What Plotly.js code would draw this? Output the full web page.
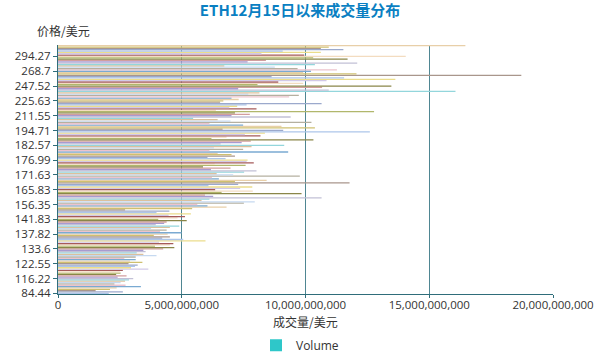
<!DOCTYPE html>
<html>
<head>
<meta charset="utf-8">
<script src="https://cdn.plot.ly/plotly-3.0.1.min.js"></script>
<style>html,body{margin:0;padding:0;background:#fff;}#chart{width:600px;height:354px;}</style>
</head>
<body>
<div id="chart"></div>
<script>
// Price levels (USD), ascending (category axis)
var prices = [
'84.44','86.79','90.68','93.51','100.44','102.47','104.53','106.92','108.70','110.13','113.31',
'116.22','116.73','117.32','117.89','118.41','118.97','119.40','120.08','120.63','121.35','121.98',
'122.55','123.31','124.19','125.34','126.42','127.63','128.80','129.75','130.86','131.84','132.74',
'133.6','133.97','134.36','134.81','135.19','135.62','136.05','136.44','136.81','137.13','137.52',
'137.82','138.17','138.49','138.86','139.21','139.58','139.97','140.32','140.74','141.12','141.49',
'141.83','142.46','143.91','144.73','145.86','147.52','148.94','150.39','152.07','153.61','155.02',
'156.35','157.28','158.16','159.05','160.02','160.89','161.83','162.59','163.37','164.24','165.06',
'165.83','166.34','166.87','167.41','167.95','168.52','169.08','169.61','170.12','170.58','171.14',
'171.63','172.08','172.61','173.14','173.59','174.05','174.53','175.02','175.49','175.97','176.48',
'176.99','177.52','178.04','178.61','179.13','179.68','180.24','180.75','181.29','181.76','182.13',
'182.57','183.48','184.62','185.79','186.91','188.13','189.27','190.44','191.58','192.67','193.76',
'194.71','196.23','197.92','199.61','201.35','202.86','204.42','205.97','207.51','209.08','210.36',
'211.55','212.89','214.27','215.63','216.92','218.35','219.74','221.08','222.43','223.81','224.69',
'225.63','227.41','229.65','231.88','234.12','236.27','238.56','240.71','242.93','244.86','246.19',
'247.52','249.35','251.42','253.68','255.81','257.93','259.87','261.94','264.06','265.83','267.41',
'268.7','270.53','272.96','275.31','277.68','280.14','282.47','284.92','287.26','289.63','291.88',
'294.27','297.05','300.61','304.38','308.92','313.47','318.06','326.54','336.82'
];

// Traded volume (USD) at each price level
var volumes = [
2.05e9,2.62e9,1.52e9,2.10e9,2.37e9,3.35e9,2.73e9,2.28e9,2.53e9,2.71e9,2.87e9,
3.04e9,2.41e9,2.77e9,2.35e9,2.53e9,2.50e9,2.62e9,3.65e9,2.95e9,3.11e9,3.22e9,
2.85e9,3.41e9,2.91e9,3.14e9,2.68e9,3.14e9,3.98e9,3.45e9,3.18e9,3.54e9,3.45e9,
4.25e9,4.70e9,3.92e9,4.52e9,4.66e9,4.08e9,5.96e9,5.06e9,4.21e9,4.52e9,3.87e9,
4.43e9,4.99e9,4.12e9,4.39e9,3.76e9,4.52e9,4.90e9,3.95e9,4.29e9,4.39e9,5.20e9,
4.05e9,4.83e9,5.13e9,4.47e9,5.37e9,3.98e9,4.50e9,2.71e9,5.42e9,6.81e9,6.04e9,
5.63e9,7.51e9,7.95e9,5.80e9,6.12e9,10.65e9,6.27e9,5.94e9,9.84e9,6.61e9,7.87e9,
6.35e9,7.36e9,7.85e9,6.08e9,7.28e9,11.78e9,7.15e9,8.43e9,6.50e9,6.22e9,9.77e9,
7.08e9,6.41e9,7.52e9,8.02e9,6.18e9,6.97e9,5.86e9,7.58e9,6.33e9,7.91e9,7.62e9,
7.66e9,6.77e9,6.04e9,7.15e9,7.01e9,6.45e9,9.30e9,6.12e9,7.48e9,6.30e9,7.82e9,
9.14e9,6.57e9,7.42e9,7.79e9,10.32e9,6.20e9,6.81e9,8.18e9,7.55e9,8.36e9,12.60e9,
9.10e9,6.65e9,10.38e9,9.03e9,7.48e9,6.12e9,10.24e9,6.97e9,6.45e9,5.46e9,9.40e9,
7.01e9,7.75e9,7.15e9,12.77e9,6.38e9,8.02e9,6.92e9,7.24e9,7.62e9,10.65e9,6.55e9,
6.68e9,7.30e9,7.01e9,9.34e9,9.73e9,7.69e9,8.14e9,16.06e9,10.94e9,7.28e9,10.67e9,
13.47e9,8.06e9,9.91e9,8.90e9,10.85e9,13.63e9,11.56e9,8.63e9,18.72e9,12.06e9,9.91e9,
10.22e9,11.27e9,9.68e9,8.76e9,6.72e9,10.38e9,12.09e9,7.66e9,8.40e9,11.70e9,10.31e9,
14.05e9,9.95e9,8.22e9,10.62e9,9.08e9,11.53e9,10.62e9,10.94e9,16.46e9
];

// Price levels that carry a visible tick label
var tickPrices = ['84.44','116.22','122.55','133.6','137.82','141.83','156.35','165.83','171.63',
'176.99','182.57','194.71','211.55','225.63','247.52','268.7','294.27'];

var xTicks = [0, 5e9, 10e9, 15e9, 20e9];
var seriesName = 'Volume';

var palette = ['#adc6ea','#cfc070','#ecc3cd','#dcc09c','#a89bd0','#b1b76c','#d2c9e8','#9ba9cc',
'#e8cfa8','#b5b0a0','#93d6dc','#d29e9e','#f3dcc0','#ebdd8c','#a9968c','#7aaad2','#c6d9f0','#c2c0d6',
'#8a8648','#a55a5a'];
var colors = prices.map(function(p, i){ return palette[(i * 7) % palette.length]; });

var cjk = 'Noto Sans CJK SC, Noto Sans, sans-serif';
var latin = 'Open Sans, Noto Sans, sans-serif';

var data = [
  {
    type: 'bar', orientation: 'h', x: volumes, y: prices,
    marker: {color: colors, line: {width: 0}}, showlegend: false, name: seriesName, hoverinfo: 'x+y'
  },
  {
    type: 'bar', orientation: 'h', x: [null], y: [null], name: seriesName,
    marker: {color: '#2ec7c9'}, showlegend: true
  }
];

var layout = {
  width: 600, height: 354,
  margin: {l: 58, r: 47, t: 45, b: 60, autoexpand: false},
  paper_bgcolor: '#fff', plot_bgcolor: '#fff',
  font: {family: latin, size: 12, color: '#333'},
  bargap: 0.05,
  title: {text: 'ETH12月15日以来成交量分布', x: 0.5, xanchor: 'center', y: 0.985, yanchor: 'top',
          font: {family: cjk, size: 15, color: '#0a7fc2', weight: 'bold'}},
  xaxis: {
    range: [0, 20e9], tickvals: xTicks, tickformat: ',d', automargin: false,
    showgrid: true, gridcolor: '#4f8692', gridwidth: 1, zeroline: false,
    showline: true, linecolor: '#2f6d7a', linewidth: 1,
    ticks: 'outside', ticklen: 3, tickcolor: '#2f6d7a', ticklabelstandoff: -3,
    tickfont: {family: latin, size: 11.5, color: '#333'},
    fixedrange: true
  },
  yaxis: {
    type: 'category', categoryorder: 'array', categoryarray: prices, automargin: false,
    tickmode: 'array', tickvals: tickPrices, ticktext: tickPrices,
    showgrid: false, zeroline: false,
    showline: true, linecolor: '#2f6d7a', linewidth: 1,
    ticks: 'outside', ticklen: 4, tickcolor: '#2f6d7a',
    tickfont: {family: latin, size: 11.5, color: '#333'},
    fixedrange: true
  },
  legend: {orientation: 'h', x: 0.5, xanchor: 'center', xref: 'container',
           y: 0.025, yanchor: 'middle', yref: 'container',
           font: {family: latin, size: 12, color: '#333'}},
  annotations: [
    {text: '价格/美元', xref: 'paper', yref: 'paper', x: 0.012, y: 1.06, xanchor: 'center', yanchor: 'middle',
     showarrow: false, font: {family: cjk, size: 12, color: '#333'}},
    {text: '成交量/美元', xref: 'paper', yref: 'paper', x: 0.5, y: -0.112, xanchor: 'center', yanchor: 'middle',
     showarrow: false, font: {family: cjk, size: 12, color: '#333'}}
  ]
};

Plotly.newPlot('chart', data, layout, {displayModeBar: false, staticPlot: true});
</script>
</body>
</html>
